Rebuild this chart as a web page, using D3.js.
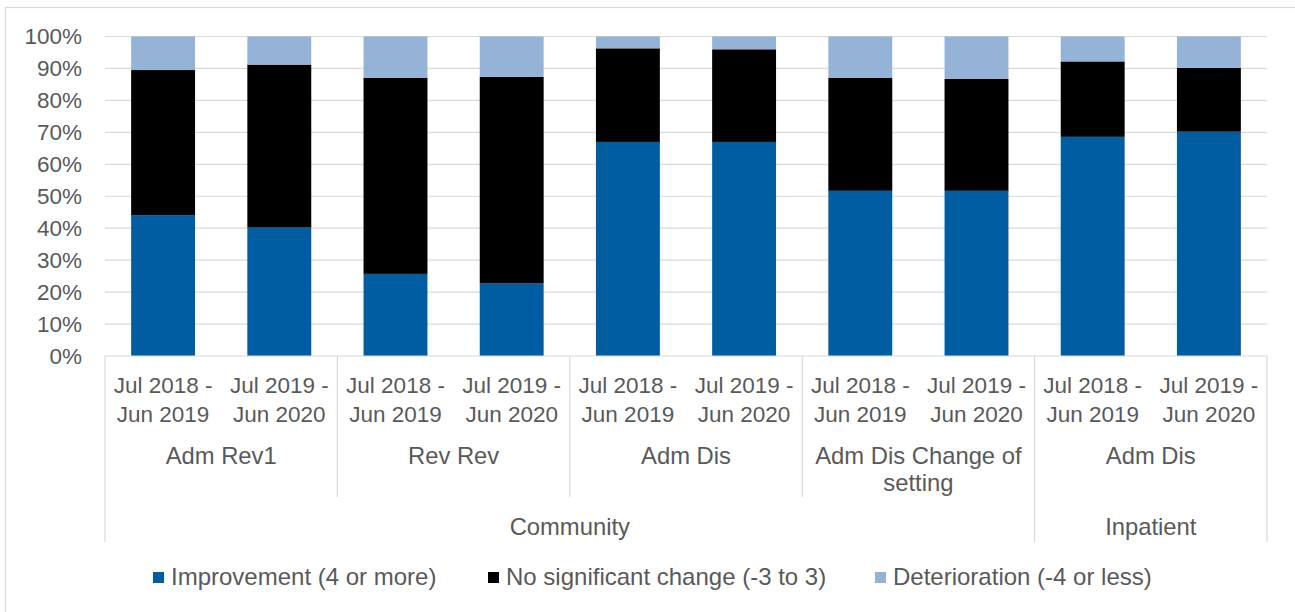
<!DOCTYPE html>
<html>
<head>
<meta charset="utf-8">
<script src="https://cdnjs.cloudflare.com/ajax/libs/d3/7.8.5/d3.min.js"></script>
<style>
  html, body { margin: 0; padding: 0; background: #fff; }
  svg { display: block; }
  text { font-family: "Liberation Sans", Arial, sans-serif; fill: #595959; }
</style>
</head>
<body>
<svg id="chart" width="1295" height="612"></svg>
<script>
// ---- data ----
const periodLines = [["Jul 2018 -", "Jun 2019"], ["Jul 2019 -", "Jun 2020"]];
const barPeriods = [0, 1, 0, 1, 0, 1, 0, 1, 0, 1];
const barGroups = [0, 0, 1, 1, 2, 2, 3, 3, 4, 4];
const groupLabels = [["Adm Rev1"], ["Rev Rev"], ["Adm Dis"], ["Adm Dis Change of", "setting"], ["Adm Dis"]];
const groupSetting = [0, 0, 0, 0, 1];
const settingLabels = ["Community", "Inpatient"];
const seriesNames = ["Improvement (4 or more)", "No significant change (-3 to 3)", "Deterioration (-4 or less)"];
const improvement   = [44.1, 40.2, 25.7, 22.8, 67.0, 67.0, 51.7, 51.7, 68.6, 70.2];
const noChange      = [45.4, 51.0, 61.4, 64.6, 29.3, 29.0, 35.4, 35.0, 23.6, 20.0];
const deterioration = [10.5,  8.8, 12.9, 12.6,  3.7,  4.0, 12.9, 13.3,  7.8,  9.8];
const yTicks = [0, 10, 20, 30, 40, 50, 60, 70, 80, 90, 100];
const colors = ["#005DA2", "#000000", "#95B3D7"];

// ---- layout ----
const svg = d3.select("#chart");
const L = 105, R = 1267, T = 36.5, B = 356;
const FS = 22.5, FS2 = 23.8;

svg.append("rect").attr("x", 5.5).attr("y", 7.5).attr("width", 1400).attr("height", 800)
  .attr("fill", "none").attr("stroke", "#d9d9d9").attr("stroke-width", 1.2);

const idx = d3.range(improvement.length);
const x = d3.scaleBand().domain(idx).range([L, R]).paddingInner(0.45).paddingOuter(0.225);
const y = d3.scaleLinear().domain([0, 100]).range([B, T]);

// gridlines
svg.append("g").selectAll("line").data(yTicks.filter(d => d > 0)).join("line")
  .attr("x1", L).attr("x2", R).attr("y1", d => y(d)).attr("y2", d => y(d))
  .attr("stroke", "#d9d9d9").attr("stroke-width", 1.2);

// y axis
const yAxis = svg.append("g").attr("transform", `translate(${L},0)`)
  .call(d3.axisLeft(y).tickValues(yTicks).tickSize(0).tickPadding(23).tickFormat(d => d + "%"));
yAxis.select(".domain").remove();
yAxis.selectAll("text").style("font-size", FS + "px").attr("fill", "#595959")
  .attr("font-family", "Liberation Sans, Arial, sans-serif");

// stacked bars
const rows = idx.map(i => ({ i, v0: improvement[i], v1: noChange[i], v2: deterioration[i] }));
const stack = d3.stack().keys(["v0", "v1", "v2"]);
const stacked = stack(rows);
svg.append("g").selectAll("g").data(stacked).join("g")
  .attr("fill", (d, k) => colors[k])
  .selectAll("rect").data(d => d).join("rect")
  .attr("x", d => x(d.data.i)).attr("width", x.bandwidth())
  .attr("y", d => y(d[1])).attr("height", d => y(d[0]) - y(d[1]));

// x axis line
svg.append("line").attr("x1", L).attr("x2", R).attr("y1", B).attr("y2", B)
  .attr("stroke", "#d9d9d9").attr("stroke-width", 1.2);

const step = x.step();
const edge = i => L + i * step; // left boundary of bar slot i

// period tick labels
const xt = svg.append("g");
idx.forEach(i => {
  const cx = x(i) + x.bandwidth() / 2;
  const t = xt.append("text").attr("text-anchor", "middle").style("font-size", FS + "px");
  periodLines[barPeriods[i]].forEach((ln, k) => {
    t.append("tspan").attr("x", cx).attr("y", 392.5 + k * 29.5).text(ln);
  });
});

// group labels and separators
const groupIdx = d3.range(groupLabels.length);
groupIdx.forEach(g => {
  const members = idx.filter(i => barGroups[i] === g);
  const x0 = edge(d3.min(members)), x1 = edge(d3.max(members) + 1);
  const t = svg.append("text").attr("text-anchor", "middle").style("font-size", FS2 + "px");
  groupLabels[g].forEach((ln, k) => {
    t.append("tspan").attr("x", (x0 + x1) / 2).attr("y", 464 + k * 27).text(ln);
  });
});
// inner group separators
groupIdx.slice(1).forEach(g => {
  const first = d3.min(idx.filter(i => barGroups[i] === g));
  const prevSetting = groupSetting[g - 1], curSetting = groupSetting[g];
  const xx = edge(first);
  const y2 = prevSetting === curSetting ? 497 : 542;
  svg.append("line").attr("x1", xx).attr("x2", xx).attr("y1", B).attr("y2", y2)
    .attr("stroke", "#d9d9d9").attr("stroke-width", 1.2);
});
// outer separators
[L, R].forEach(xx => {
  svg.append("line").attr("x1", xx).attr("x2", xx).attr("y1", B).attr("y2", 542)
    .attr("stroke", "#d9d9d9").attr("stroke-width", 1.2);
});

// setting labels
settingLabels.forEach((s, si) => {
  const members = idx.filter(i => groupSetting[barGroups[i]] === si);
  const x0 = edge(d3.min(members)), x1 = edge(d3.max(members) + 1);
  svg.append("text").attr("text-anchor", "middle").style("font-size", FS2 + "px")
    .attr("x", (x0 + x1) / 2).attr("y", 535).text(s);
});

// legend
const legendX = [153, 488, 875];
const lg = svg.append("g");
seriesNames.forEach((n, k) => {
  lg.append("rect").attr("x", legendX[k]).attr("y", 572).attr("width", 11).attr("height", 11)
    .attr("fill", colors[k]);
  lg.append("text").attr("x", legendX[k] + 18).attr("y", 585).style("font-size", "24px").text(n);
});
</script>
</body>
</html>
